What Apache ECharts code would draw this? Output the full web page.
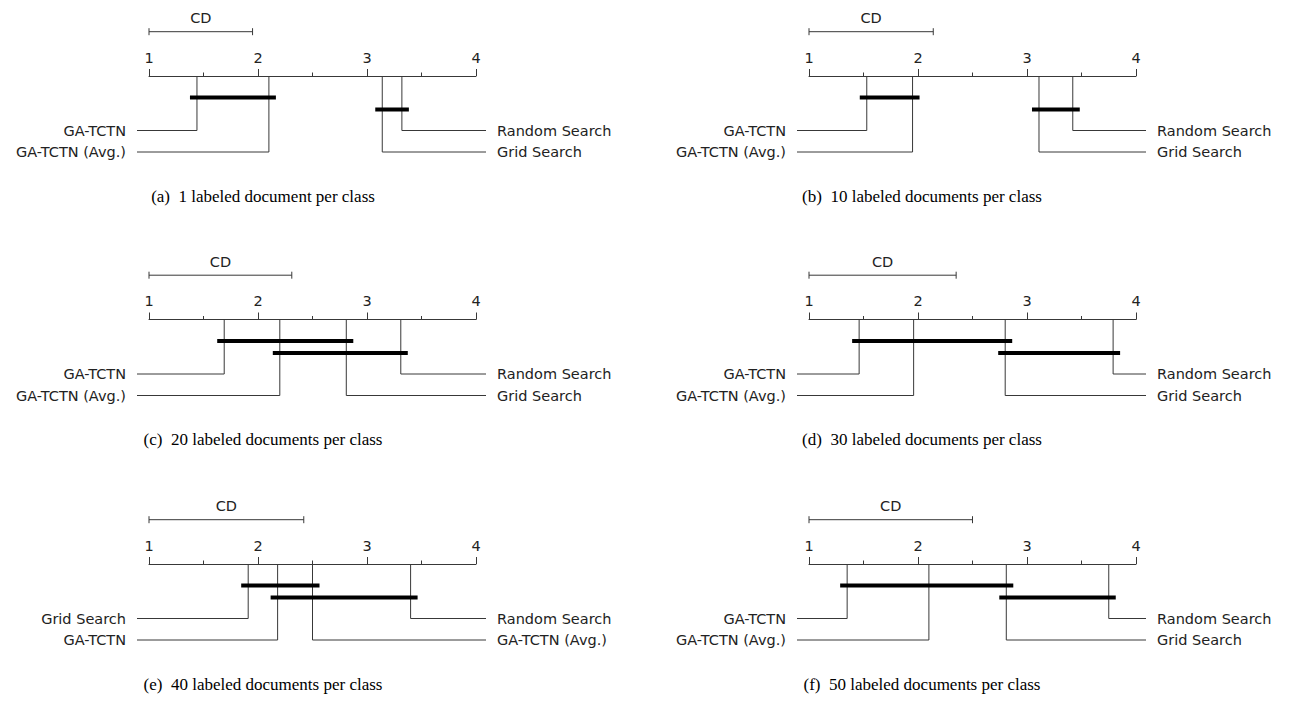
<!DOCTYPE html>
<html>
<head>
<meta charset="utf-8">
<script src="https://cdn.jsdelivr.net/npm/echarts@6/dist/echarts.min.js"></script>
<style>
html,body{margin:0;padding:0;background:#ffffff;}
#chart{width:1292px;height:711px;}
</style>
</head>
<body>
<div id="chart"></div>
<script>
// ---------- data (average ranks) ----------
const captions = [
  "(a)  1 labeled document per class",
  "(b)  10 labeled documents per class",
  "(c)  20 labeled documents per class",
  "(d)  30 labeled documents per class",
  "(e)  40 labeled documents per class",
  "(f)  50 labeled documents per class"
];
const axisTicks = [1, 2, 3, 4];

const namesA = ["GA-TCTN", "GA-TCTN (Avg.)", "Grid Search", "Random Search"];
const ranksA = [1.44, 2.10, 3.14, 3.32];
const cliquesA = [[1.44, 2.10], [3.14, 3.32]];

const namesB = ["GA-TCTN", "GA-TCTN (Avg.)", "Grid Search", "Random Search"];
const ranksB = [1.53, 1.95, 3.11, 3.42];
const cliquesB = [[1.53, 1.95], [3.11, 3.42]];

const namesC = ["GA-TCTN", "GA-TCTN (Avg.)", "Grid Search", "Random Search"];
const ranksC = [1.69, 2.20, 2.81, 3.31];
const cliquesC = [[1.69, 2.81], [2.20, 3.31]];

const namesD = ["GA-TCTN", "GA-TCTN (Avg.)", "Grid Search", "Random Search"];
const ranksD = [1.46, 1.96, 2.80, 3.79];
const cliquesD = [[1.46, 2.80], [2.80, 3.79]];

const namesE = ["Grid Search", "GA-TCTN", "GA-TCTN (Avg.)", "Random Search"];
const ranksE = [1.91, 2.18, 2.50, 3.40];
const cliquesE = [[1.91, 2.50], [2.18, 3.40]];

const namesF = ["GA-TCTN", "GA-TCTN (Avg.)", "Grid Search", "Random Search"];
const ranksF = [1.35, 2.10, 2.81, 3.75];
const cliquesF = [[1.35, 2.81], [2.81, 3.75]];

const cdValues = [0.95, 1.14, 1.31, 1.35, 1.42, 1.50];

// ---------- layout / style ----------
const panels = [
  {names: namesA, ranks: ranksA, cliques: cliquesA},
  {names: namesB, ranks: ranksB, cliques: cliquesB},
  {names: namesC, ranks: ranksC, cliques: cliquesC},
  {names: namesD, ranks: ranksD, cliques: cliquesD},
  {names: namesE, ranks: ranksE, cliques: cliquesE},
  {names: namesF, ranks: ranksF, cliques: cliquesF}
];
const colLeft = [149, 809];
const rowTop = [76, 319.5, 564];
const axisWidth = 327;
const rowOffsets = [54.5, 76];
const cliqueOffsets = [21.5, 33.5];
const captionCenterX = [263, 922];
const captionOffsetY = 120;
const lineColor = '#383838';
const textColor = '#222';
const sansFont = '14.5px "DejaVu Sans"';

const grids = [], xAxes = [], yAxes = [], series = [], graphics = [];

panels.forEach((p, i) => {
  const col = i % 2, row = Math.floor(i / 2);
  grids.push({left: colLeft[col], top: rowTop[row], width: axisWidth, height: 76});
  xAxes.push({
    gridIndex: i, type: 'value', min: axisTicks[0], max: axisTicks[axisTicks.length - 1], interval: 1,
    position: 'top',
    axisLine: {show: true, onZero: false, lineStyle: {color: lineColor, width: 1}},
    axisTick: {show: true, length: 7, lineStyle: {color: lineColor, width: 1}},
    minorTick: {show: true, splitNumber: 2, length: 3.5, lineStyle: {color: lineColor, width: 1}},
    axisLabel: {fontFamily: 'DejaVu Sans', fontSize: 14.5, color: textColor, margin: 11},
    splitLine: {show: false}
  });
  yAxes.push({gridIndex: i, type: 'value', min: 0, max: 1, show: false});

  const n = p.ranks.length;
  // method lines and labels
  series.push({
    type: 'custom', xAxisIndex: i, yAxisIndex: i, silent: true,
    data: p.ranks.map((r, k) => [r, k]),
    renderItem: function (params, api) {
      const r = api.value(0), k = api.value(1);
      const cs = params.coordSys;
      const x = api.coord([r, 0])[0];
      const y0 = cs.y;
      const left = k < n / 2;
      const rIdx = left ? k : n - 1 - k;
      const yRow = y0 + rowOffsets[rIdx];
      const xEnd = left ? cs.x - 12 : cs.x + cs.width + 10;
      return {
        type: 'group',
        children: [
          {type: 'polyline', shape: {points: [[x, y0], [x, yRow], [xEnd, yRow]]},
           style: {stroke: lineColor, lineWidth: 1, fill: null}},
          {type: 'text', x: left ? xEnd - 11 : xEnd + 11, y: yRow,
           style: {text: p.names[k], textAlign: left ? 'right' : 'left', textVerticalAlign: 'middle',
                   fill: textColor, font: sansFont}}
        ]
      };
    }
  });
  // clique bars
  series.push({
    type: 'custom', xAxisIndex: i, yAxisIndex: i, silent: true,
    data: p.cliques,
    renderItem: function (params, api) {
      const cs = params.coordSys;
      const x1 = api.coord([api.value(0), 0])[0] - 7;
      const x2 = api.coord([api.value(1), 0])[0] + 7;
      const y = cs.y + cliqueOffsets[params.dataIndex];
      return {type: 'line', shape: {x1: x1, y1: y, x2: x2, y2: y},
              style: {stroke: '#000', lineWidth: 4}};
    }
  });
  // CD bar
  series.push({
    type: 'custom', xAxisIndex: i, yAxisIndex: i, silent: true,
    data: [[axisTicks[0], axisTicks[0] + cdValues[i]]],
    renderItem: function (params, api) {
      const cs = params.coordSys;
      const x1 = api.coord([api.value(0), 0])[0];
      const x2 = api.coord([api.value(1), 0])[0];
      const y = cs.y - 44.3;
      return {
        type: 'group',
        children: [
          {type: 'line', shape: {x1: x1, y1: y, x2: x2, y2: y}, style: {stroke: lineColor, lineWidth: 1}},
          {type: 'line', shape: {x1: x1, y1: y - 3.5, x2: x1, y2: y + 3.5}, style: {stroke: lineColor, lineWidth: 1}},
          {type: 'line', shape: {x1: x2, y1: y - 3.5, x2: x2, y2: y + 3.5}, style: {stroke: lineColor, lineWidth: 1}},
          {type: 'text', x: (x1 + x2) / 2, y: cs.y - 58,
           style: {text: 'CD', textAlign: 'center', textVerticalAlign: 'middle', fill: textColor, font: sansFont}}
        ]
      };
    }
  });
  // caption
  graphics.push({
    type: 'text',
    x: captionCenterX[col], y: rowTop[row] + captionOffsetY,
    style: {text: captions[i], textAlign: 'center', textVerticalAlign: 'middle',
            fill: '#000', font: '17px "Liberation Serif"'}
  });
});

const chart = echarts.init(document.getElementById('chart'), null, {renderer: 'svg'});
chart.setOption({
  animation: false,
  backgroundColor: '#ffffff',
  grid: grids,
  xAxis: xAxes,
  yAxis: yAxes,
  series: series,
  graphic: graphics
});
</script>
</body>
</html>
